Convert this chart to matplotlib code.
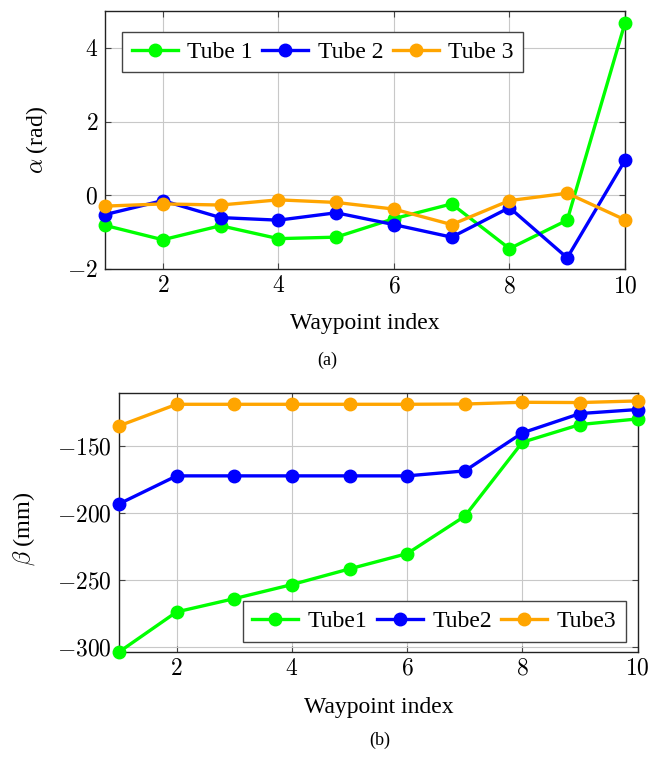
import matplotlib
matplotlib.use("Agg")
import matplotlib.pyplot as plt
from matplotlib.ticker import FuncFormatter, MultipleLocator

plt.rcParams['mathtext.fontset'] = 'cm'
plt.rcParams['font.family'] = ['Liberation Serif', 'DejaVu Serif']

waypoints = [1, 2, 3, 4, 5, 6, 7, 8, 9, 10]

alpha_tube1 = [-0.81, -1.20, -0.82, -1.17, -1.13, -0.63, -0.23, -1.44, -0.67, 4.67]
alpha_tube2 = [-0.52, -0.14, -0.60, -0.67, -0.47, -0.79, -1.13, -0.33, -1.69, 0.95]
alpha_tube3 = [-0.29, -0.23, -0.26, -0.12, -0.19, -0.37, -0.79, -0.14, 0.06, -0.66]

beta_tube1 = [-303.5, -273.6, -263.7, -253.2, -241.5, -230.1, -202.2, -147.0, -133.8, -129.6]
beta_tube2 = [-193.0, -172.1, -172.1, -172.1, -172.1, -172.1, -168.4, -140.0, -125.6, -122.6]
beta_tube3 = [-134.8, -118.7, -118.7, -118.7, -118.7, -118.7, -118.5, -117.2, -117.4, -116.2]

labels_a = ['Tube 1', 'Tube 2', 'Tube 3']
labels_b = ['Tube1', 'Tube2', 'Tube3']
colors = ['#00ff00', '#0000ff', '#ffa500']

W, H = 652, 758
fig = plt.figure(figsize=(W / 100, H / 100), dpi=100)

def box(l, t, r, b):
    return [l / W, 1 - b / H, (r - l) / W, (b - t) / H]

ax1 = fig.add_axes(box(105, 10.7, 625, 269.3))
ax2 = fig.add_axes(box(119, 393.3, 637.7, 652))

fmt = FuncFormatter(lambda v, p: r'$%g$' % v)

def style(ax):
    ax.grid(True, color='#c8c8c8', lw=0.8)
    ax.set_axisbelow(True)
    ax.tick_params(direction='in', top=True, right=True, length=4, width=0.8,
                   labelsize=17, color='#444444', pad=5)
    ax.xaxis.set_major_formatter(fmt)
    ax.yaxis.set_major_formatter(fmt)
    ax.xaxis.set_major_locator(MultipleLocator(2))
    for s in ax.spines.values():
        s.set_linewidth(1.0)
        s.set_color('#222222')

leg_kw = dict(borderaxespad=0, ncol=3, fontsize=17, frameon=True, fancybox=False,
              framealpha=1, edgecolor='#444444', handlelength=1.95, columnspacing=0.4,
              handletextpad=0.4, borderpad=0.4)

for ys, lab, c in zip([alpha_tube1, alpha_tube2, alpha_tube3], labels_a, colors):
    ax1.plot(waypoints, ys, '-o', color=c, lw=2.4, ms=9, label=lab, clip_on=False, zorder=3)
ax1.set_xlim(1, 10)
ax1.set_ylim(-2, 5)
ax1.yaxis.set_major_locator(MultipleLocator(2))
style(ax1)
ax1.set_xlabel('Waypoint index', fontsize=17)
ax1.set_ylabel(r'$\alpha$ (rad)', fontsize=17)
ax1.xaxis.set_label_coords(0.5, -0.169)
ax1.yaxis.set_label_coords(-0.106, 0.5)
leg1 = ax1.legend(loc='upper left', bbox_to_anchor=(0.033, 0.918), **leg_kw)
leg1.get_frame().set_linewidth(1.0)

for ys, lab, c in zip([beta_tube1, beta_tube2, beta_tube3], labels_b, colors):
    ax2.plot(waypoints, ys, '-o', color=c, lw=2.4, ms=9, label=lab, clip_on=False, zorder=3)
ax2.set_xlim(1, 10)
ax2.set_ylim(-303.5, -110.5)
ax2.yaxis.set_major_locator(MultipleLocator(50))
style(ax2)
ax2.set_xlabel('Waypoint index', fontsize=17)
ax2.set_ylabel(r'$\beta$ (mm)', fontsize=17.5)
ax2.xaxis.set_label_coords(0.5, -0.174)
ax2.yaxis.set_label_coords(-0.158, 0.475)
leg2 = ax2.legend(loc='lower right', bbox_to_anchor=(0.977, 0.039), **leg_kw)
leg2.get_frame().set_linewidth(1.0)

fig.text(327 / W, 1 - 360 / H, '(a)', ha='center', va='center', fontsize=13)
fig.text(380 / W, 1 - 740 / H, '(b)', ha='center', va='center', fontsize=13)

fig.savefig('out.png', dpi=100)
